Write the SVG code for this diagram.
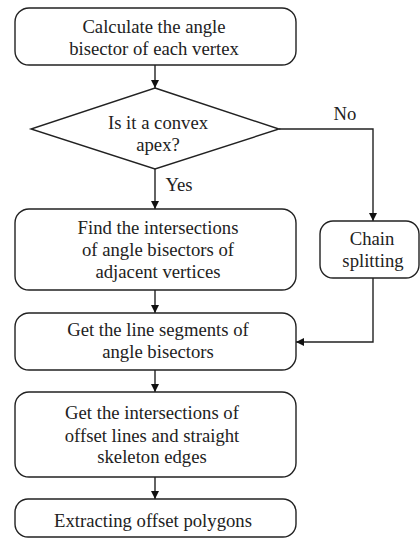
<svg xmlns="http://www.w3.org/2000/svg" width="420" height="538" viewBox="0 0 420 538">
<style>
.box{fill:#fff;stroke:#222;stroke-width:1.4}
.t{font-family:"Liberation Serif","Times New Roman",serif;font-size:18.7px;fill:#222;text-anchor:middle}
.c{stroke:#222;stroke-width:1.4;fill:none}
</style>
<defs>
<marker id="a" markerWidth="8" markerHeight="8" refX="8" refY="4" orient="auto" markerUnits="userSpaceOnUse">
<path d="M0,0 L8,4 L0,8 Z" fill="#111"/>
</marker>
</defs>
<rect width="420" height="538" fill="#fff"/>
<g id="connectors">
<line class="c" x1="155" y1="65" x2="155" y2="88" marker-end="url(#a)"/>
<line class="c" x1="155" y1="169" x2="155" y2="209" marker-end="url(#a)"/>
<polyline class="c" points="279,129 373,129 373,221" marker-end="url(#a)"/>
<line class="c" x1="155" y1="290" x2="155" y2="313" marker-end="url(#a)"/>
<polyline class="c" points="373,278 373,342 296,342" marker-end="url(#a)"/>
<line class="c" x1="155" y1="370" x2="155" y2="392" marker-end="url(#a)"/>
<line class="c" x1="155" y1="477" x2="155" y2="499" marker-end="url(#a)"/>
<text class="t" x="345" y="120">No</text>
<text class="t" x="179" y="191">Yes</text>
</g>
<g id="n1">
<rect class="box" x="15" y="8" width="281" height="57" rx="14"/>
<text class="t" x="154" y="33">Calculate the angle</text>
<text class="t" x="154" y="55">bisector of each vertex</text>
</g>
<g id="n2">
<polygon class="box" points="155,88 279,129 155,169 31,129"/>
<text class="t" x="158" y="129">Is it a convex</text>
<text class="t" x="158" y="151">apex?</text>
</g>
<g id="n3">
<rect class="box" x="15" y="209" width="281" height="81" rx="14"/>
<text class="t" x="158" y="234">Find the intersections</text>
<text class="t" x="158" y="256">of angle bisectors of</text>
<text class="t" x="158" y="278">adjacent vertices</text>
</g>
<g id="n4">
<rect class="box" x="320" y="221" width="99" height="57" rx="13"/>
<text class="t" x="372" y="245">Chain</text>
<text class="t" x="373" y="267">splitting</text>
</g>
<g id="n5">
<rect class="box" x="15" y="313" width="281" height="57" rx="14"/>
<text class="t" x="158" y="336">Get the line segments of</text>
<text class="t" x="158" y="358">angle bisectors</text>
</g>
<g id="n6">
<rect class="box" x="15" y="392" width="281" height="85" rx="14"/>
<text class="t" x="152" y="419">Get the intersections of</text>
<text class="t" x="152" y="442">offset lines and straight</text>
<text class="t" x="152" y="463">skeleton edges</text>
</g>
<g id="n7">
<rect class="box" x="15" y="499" width="281" height="38" rx="13"/>
<text class="t" x="153" y="527">Extracting offset polygons</text>
</g>
</svg>
